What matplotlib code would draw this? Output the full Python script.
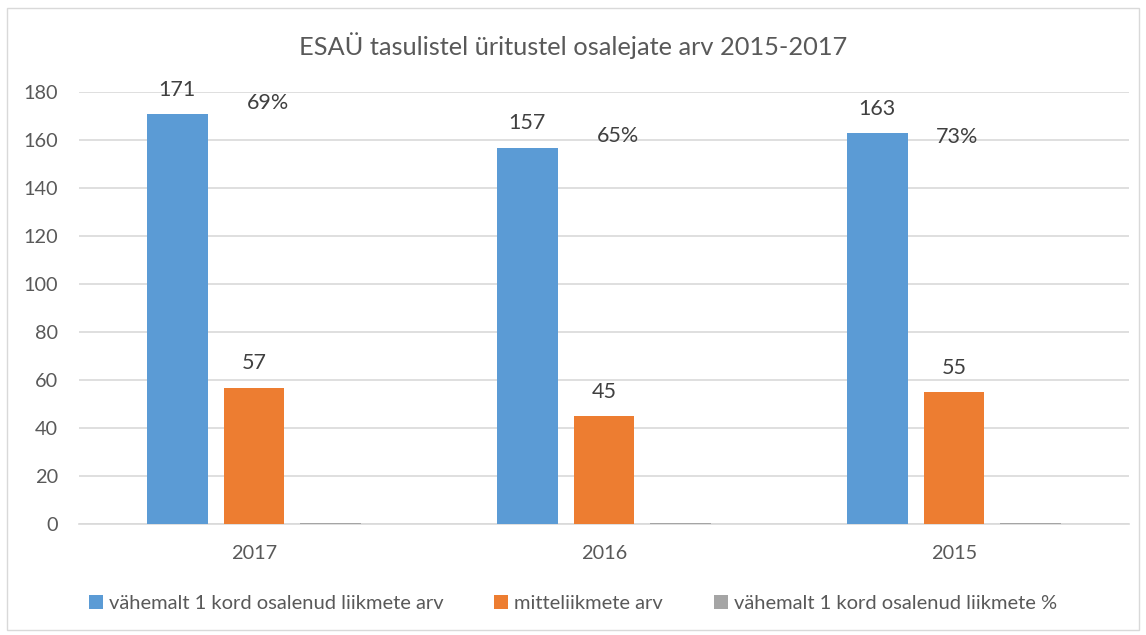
import matplotlib.pyplot as plt
from matplotlib.patches import Patch, Rectangle
import numpy as np

plt.rcParams['font.family'] = ['Lato', 'DejaVu Sans']

years = ["2017", "2016", "2015"]
members = [171, 157, 163]
non_members = [57, 45, 55]
members_pct = [0.69, 0.65, 0.73]
series_names = ["vähemalt 1 kord osalenud liikmete arv", "mitteliikmete arv",
                "vähemalt 1 kord osalenud liikmete %"]
colors = ["#5B9BD5", "#ED7D31", "#A5A5A5"]
text_col = "#595959"

fig = plt.figure(figsize=(11.46, 6.35), dpi=100)
fig.patches.append(Rectangle((0.0065, 0.008), 0.987, 0.98, transform=fig.transFigure,
                             fill=False, edgecolor="#D9D9D9", linewidth=1))
ax = fig.add_axes([0.0689, 0.1743, 0.9163, 0.6803])

x = np.arange(len(years))
step = 0.2196
w = 0.174
series = [members, non_members, members_pct]
bars = []
for j, vals in enumerate(series):
    b = ax.bar(x + (j - 1) * step, vals, width=w, color=colors[j], zorder=3)
    bars.append(b)

# value labels for counts
for j in range(2):
    for rect, v in zip(bars[j], series[j]):
        ax.annotate(str(v), (rect.get_x() + rect.get_width() / 2, v), xytext=(0, 17.5),
                    textcoords="offset points", ha="center", va="center",
                    fontsize=15.5, color="#404040")

# percent labels (moved by hand in the original)
pct_y = [175.5, 161.8, 161.5]
pct_dx = [-0.18, -0.18, -0.21]
for i, (rect, v) in enumerate(zip(bars[2], members_pct)):
    ax.text(rect.get_x() + rect.get_width() / 2 + pct_dx[i], pct_y[i],
            "{:.0f}%".format(v * 100), ha="center", va="center",
            fontsize=15.5, color="#404040")

ax.set_xlim(-0.5, 2.5)
ax.set_ylim(0, 180)
ax.set_yticks(range(0, 181, 20))
ax.set_xticks(x)
ax.set_xticklabels(years)
ax.tick_params(axis="y", length=0, pad=15, labelsize=14.3, labelcolor=text_col)
ax.tick_params(axis="x", length=0, pad=15, labelsize=14.3, labelcolor=text_col)
ax.grid(axis="y", color="#D9D9D9", linewidth=1.2, zorder=0)
for s in ["left", "right", "top"]:
    ax.spines[s].set_visible(False)
ax.spines["bottom"].set_color("#D9D9D9")
ax.spines["bottom"].set_linewidth(1.2)

fig.text(0.5, 0.929, "ESAÜ tasulistel üritustel osalejate arv 2015-2017", ha="center",
         va="center", fontsize=18.3, color=text_col)

handles = [Patch(facecolor=c, edgecolor="none") for c in colors]
fig.legend(handles, series_names, loc="center", bbox_to_anchor=(0.5, 0.049), ncol=3,
           frameon=False, fontsize=14.5, labelcolor=text_col, handlelength=0.7,
           handleheight=0.7, handletextpad=0.3, columnspacing=2.5)

fig.savefig("out.png", dpi=100)
